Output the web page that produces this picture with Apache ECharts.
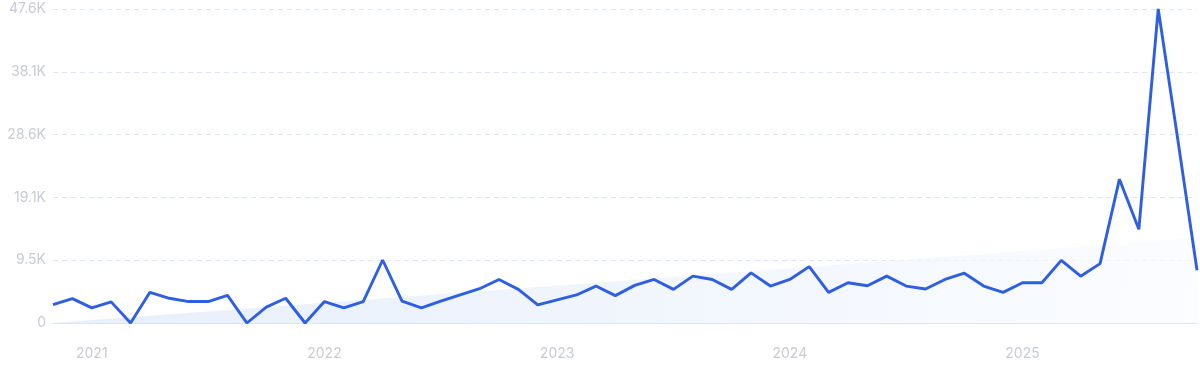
<!DOCTYPE html>
<html>
<head>
<meta charset="utf-8">
<script src="https://cdn.jsdelivr.net/npm/echarts@6/dist/echarts.min.js"></script>
<style>
html,body{margin:0;padding:0;background:#fff;}
#c{width:1200px;height:372px;}
</style>
</head>
<body>
<div id="c"></div>
<script>
// Monthly categories Nov 2020 .. Oct 2025
const categories = [
  '2020-11','2020-12',
  '2021-01','2021-02','2021-03','2021-04','2021-05','2021-06','2021-07','2021-08','2021-09','2021-10','2021-11','2021-12',
  '2022-01','2022-02','2022-03','2022-04','2022-05','2022-06','2022-07','2022-08','2022-09','2022-10','2022-11','2022-12',
  '2023-01','2023-02','2023-03','2023-04','2023-05','2023-06','2023-07','2023-08','2023-09','2023-10','2023-11','2023-12',
  '2024-01','2024-02','2024-03','2024-04','2024-05','2024-06','2024-07','2024-08','2024-09','2024-10','2024-11','2024-12',
  '2025-01','2025-02','2025-03','2025-04','2025-05','2025-06','2025-07','2025-08','2025-09','2025-10'
];
const values = [
  2800, 3700,
  2300, 3200, 0, 4650, 3750, 3250, 3250, 4200, 0, 2400, 3750, 0,
  3250, 2300, 3250, 9550, 3300, 2300, 3300, 4250, 5200, 6600, 5100, 2750,
  3500, 4250, 5600, 4150, 5700, 6600, 5100, 7100, 6600, 5100, 7600, 5600,
  6600, 8550, 4650, 6100, 5650, 7100, 5600, 5150, 6600, 7550, 5600, 4650,
  6100, 6100, 9500, 7100, 9000, 21800, 14200, 47600, 28000, 8000
];
const trendStart = 0;
const trendEnd = 12900;
const yTickLabels = ['0', '9.5K', '19.1K', '28.6K', '38.1K', '47.6K'];
const yStep = 9520;

const chart = echarts.init(document.getElementById('c'), null, {renderer: 'canvas'});
chart.setOption({
  animation: false,
  backgroundColor: '#ffffff',
  grid: {left: 53, right: 3, top: 9, bottom: 49, containLabel: false},
  xAxis: {
    type: 'category',
    data: categories,
    boundaryGap: false,
    axisLine: {show: true, lineStyle: {color: '#dde5f3', width: 1}},
    axisTick: {show: false},
    axisLabel: {
      interval: function (idx, val) { return val.slice(5) === '01'; },
      formatter: function (val) { return val.slice(0, 4); },
      color: '#c9cbd4',
      fontFamily: 'Inter',
      fontSize: 14,
      margin: 24
    },
    splitLine: {show: false}
  },
  yAxis: {
    type: 'value',
    min: 0,
    max: yStep * 5,
    interval: yStep,
    axisLine: {show: false},
    axisTick: {show: false},
    axisLabel: {
      formatter: function (v) { return yTickLabels[Math.round(v / yStep)]; },
      color: '#c9cbd4',
      fontFamily: 'Inter',
      fontSize: 14,
      margin: 7
    },
    splitLine: {show: true, lineStyle: {color: '#dde6f8', type: [5, 4], width: 1}}
  },
  series: [
    {
      type: 'line',
      data: [[categories[0], trendStart], [categories[categories.length - 1], trendEnd]],
      symbol: 'none',
      lineStyle: {width: 0, opacity: 0},
      areaStyle: {
        color: new echarts.graphic.LinearGradient(0, 0, 1, 1, [
          {offset: 0, color: '#dce8fa'},
          {offset: 1, color: '#f9fbff'}
        ])
      },
      z: 1,
      silent: true
    },
    {
      type: 'line',
      data: values,
      symbol: 'none',
      lineStyle: {color: '#2d5ee3', width: 2.9},
      z: 3
    }
  ]
});
</script>
</body>
</html>
